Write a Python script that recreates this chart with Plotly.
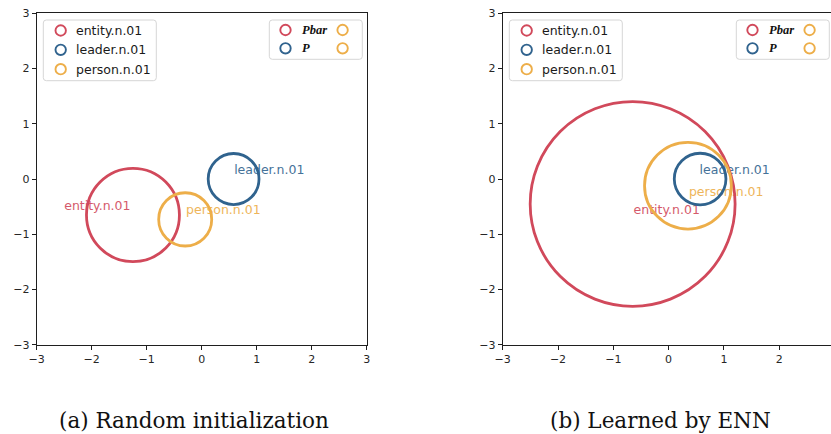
import plotly.graph_objects as go

W, H = 831, 434

# ---------------- data ----------------
concepts = ["entity.n.01", "leader.n.01", "person.n.01"]
colors = ["#d1495b", "#30638e", "#edae49"]

# (a) random initialization: centres, radii, label anchors
a_cx = [-1.25, 0.58, -0.30]
a_cy = [-0.65, 0.00, -0.73]
a_r = [0.845, 0.462, 0.482]
a_lx = [-2.50, 0.59, -0.285]
a_ly = [-0.50, 0.14, -0.585]

# (b) learned by ENN
b_cx = [-0.65, 0.57, 0.35]
b_cy = [-0.45, 0.00, -0.12]
b_r = [1.853, 0.467, 0.785]
b_lx = [-0.633, 0.56, 0.367]
b_ly = [-0.576, 0.145, -0.253]

tick_vals = [-3, -2, -1, 0, 1, 2, 3]
tick_text = ["\u22123", "\u22122", "\u22121", "0", "1", "2", "3"]
captions = ["(a) Random initialization", "(b) Learned by ENN"]
legend2_labels = ["Pbar", "P"]
legend2_colors = ["#d1495b", "#30638e"]
legend2_extra = "#edae49"

# ---------------- helpers ----------------
def px(x):
    return x / W

def py(y):
    return 1 - y / H

SANS = "DejaVu Sans"
SERIF = "Liberation Serif"
CAPFONT = "DejaVu Serif"
AXC = "#1f1f1f"

fig = go.Figure()

panels = [
    dict(cx=a_cx, cy=a_cy, r=a_r, lx=a_lx, ly=a_ly, xa="x", ya="y"),
    dict(cx=b_cx, cy=b_cy, r=b_r, lx=b_lx, ly=b_ly, xa="x2", ya="y2"),
]

shapes = []
annotations = []

for p in panels:
    for i, name in enumerate(concepts):
        fig.add_trace(go.Scatter(
            x=[p["lx"][i]], y=[p["ly"][i]], mode="text", text=[name],
            textposition="middle right",
            textfont=dict(family=SANS, size=12.5, color=colors[i]),
            xaxis=p["xa"], yaxis=p["ya"], showlegend=False, hoverinfo="skip",
            opacity=0.9,
        ))
        shapes.append(dict(
            type="circle", xref=p["xa"], yref=p["ya"],
            x0=p["cx"][i] - p["r"][i], x1=p["cx"][i] + p["r"][i],
            y0=p["cy"][i] - p["r"][i], y1=p["cy"][i] + p["r"][i],
            line=dict(color=colors[i], width=2.8), fillcolor="rgba(0,0,0,0)",
            layer="above",
        ))


def rounded_box(x0, y0, x1, y1, rad=3):
    def P(x, y):
        return f"{px(x):.6f},{py(y):.6f}"
    path = (f"M {P(x0+rad, y0)} L {P(x1-rad, y0)} Q {P(x1, y0)} {P(x1, y0+rad)} "
            f"L {P(x1, y1-rad)} Q {P(x1, y1)} {P(x1-rad, y1)} "
            f"L {P(x0+rad, y1)} Q {P(x0, y1)} {P(x0, y1-rad)} "
            f"L {P(x0, y0+rad)} Q {P(x0, y0)} {P(x0+rad, y0)} Z")
    return dict(type="path", xref="paper", yref="paper", path=path,
                line=dict(color="#d6d6d6", width=1), fillcolor="rgba(255,255,255,0.85)",
                layer="above")


def marker(x, y, color, rad=5.2):
    return dict(type="circle", xref="paper", yref="paper",
                x0=px(x - rad), x1=px(x + rad), y0=py(y + rad), y1=py(y - rad),
                line=dict(color=color, width=1.9), fillcolor="rgba(0,0,0,0)", layer="above")


def text(x, y, s, size=12.5, family=SANS, xanchor="left", color="#1a1a1a"):
    return dict(x=px(x), y=py(y), xref="paper", yref="paper", text=s, showarrow=False,
                xanchor=xanchor, yanchor="middle", font=dict(family=family, size=size, color=color),
                borderpad=0)

for bx, mx, tx in [(43.3, 60.7, 74.5), (509.3, 526.7, 541.0)]:
    shapes.append(rounded_box(bx, 20, bx + 113, 80.7))
    for i, (yy, name) in enumerate(zip([30.5, 49.8, 69.2], concepts)):
        shapes.append(marker(mx, yy, colors[i]))
        annotations.append(text(tx, yy, name))

for bx in [269.3, 736.3]:
    shapes.append(rounded_box(bx, 20, bx + 93, 59.3))
    for j, yy in enumerate([30.0, 48.3]):
        shapes.append(marker(bx + 16.2, yy, legend2_colors[j]))
        shapes.append(marker(bx + 73.3, yy, legend2_extra))
        annotations.append(text(bx + 31.5, yy, f"<b><i>{legend2_labels[j]}</i></b>",
                                size=12.5, family=SERIF, color="#111"))

for cx_pix, cap in zip([194, 660.5], captions):
    annotations.append(dict(x=px(cx_pix), y=py(420), xref="paper", yref="paper", text=cap,
                            showarrow=False, xanchor="center", yanchor="middle",
                            font=dict(family=CAPFONT, size=21.5, color="#111")))

axis_common = dict(
    tickvals=tick_vals, ticktext=tick_text, ticks="outside", ticklen=4, tickwidth=1,
    tickcolor=AXC, showline=True, linecolor=AXC, linewidth=1, showgrid=False,
    zeroline=False, automargin=False,
    tickfont=dict(family=SANS, size=11, color="#262626"),
)

ydom = [py(344.8), py(13.3)]

fig.update_layout(
    template="none",
    width=W, height=H, autosize=False,
    margin=dict(l=0, r=0, t=0, b=0, pad=0, autoexpand=False),
    paper_bgcolor="white", plot_bgcolor="white",
    showlegend=False,
    hovermode=False,
    xaxis=dict(domain=[px(36.7), px(366.7)], range=[-3, 3], anchor="y", mirror=True, **axis_common),
    yaxis=dict(domain=ydom, range=[-3, 3], anchor="x", mirror=True, **axis_common),
    xaxis2=dict(domain=[px(502.7), 1.0], range=[-3, 2.937], anchor="y2", mirror=True, **axis_common),
    yaxis2=dict(domain=ydom, range=[-3, 3], anchor="x2", mirror=False, **axis_common),
    shapes=shapes,
    annotations=annotations,
)

fig.write_html(
    "out.html",
    config={"displayModeBar": False, "staticPlot": True},
    post_script="document.body.style.margin='0';document.body.style.overflow='hidden';",
)
